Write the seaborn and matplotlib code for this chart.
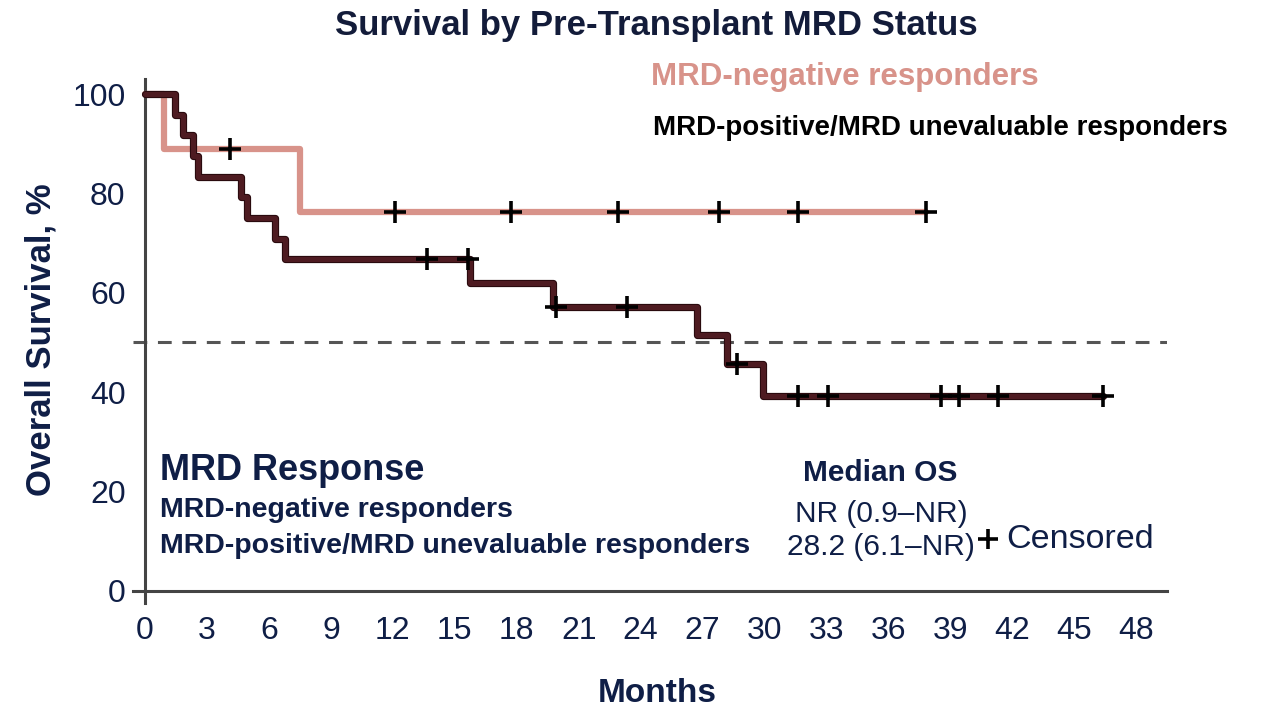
# Curvas de sobrevida (Kaplan-Meier) por status de DRM antes do transplante
import numpy as np
import pandas as pd
import matplotlib
matplotlib.use("Agg")
import matplotlib.pyplot as plt
import matplotlib.patheffects as pe
import seaborn as sns

# Dados (meses, % de sobrevida)
neg_times = [0, 0.9, 7.5]
neg_surv = [100, 88.9, 76.2]
neg_end = 37.8
neg_censor = [4.1, 12.1, 17.7, 22.9, 27.8, 31.6, 37.8]

pos_times = [0, 1.45, 1.86, 2.34, 2.58, 4.65, 4.92, 6.3, 6.78, 15.74, 19.77, 26.72, 28.2, 29.93]
pos_surv = [100, 95.8, 91.7, 87.5, 83.3, 79.2, 75.0, 70.8, 66.7, 61.9, 57.1, 51.4, 45.7, 39.2]
pos_end = 46.4
pos_censor = [13.64, 15.66, 19.9, 23.33, 28.67, 31.62, 33.09, 38.53, 39.43, 41.29, 46.38]

x_ticks = list(range(0, 49, 3))
y_ticks = [0, 20, 40, 60, 80, 100]

navy = "#0f1e46"
pink = "#d8938a"
maroon = "#4e1b21"

sns.set_style("white")
plt.rcParams["font.family"] = ["Liberation Sans", "DejaVu Sans"]


def step_df(times, surv, end, group):
    df = pd.DataFrame({"Months": list(times) + [end], "OS": list(surv) + [surv[-1]]})
    df["group"] = group
    return df


def censor_df(times, surv, censor):
    idx = np.searchsorted(times, censor, side="right") - 1
    return pd.DataFrame({"Months": censor, "OS": np.array(surv)[idx]})


neg = step_df(neg_times, neg_surv, neg_end, "neg")
pos = step_df(pos_times, pos_surv, pos_end, "pos")

fig = plt.figure(figsize=(12.68, 7.12), dpi=100)
ax = fig.add_axes([0.1046, 0.1529, 0.816, 0.736])

ax.axhline(50, color="#555555", lw=2.2, ls=(0, (4.5, 3.5)), zorder=1)

sns.lineplot(data=neg, x="Months", y="OS", drawstyle="steps-post", color=pink,
             lw=4.5, ax=ax, zorder=3)
sns.lineplot(data=pos, x="Months", y="OS", drawstyle="steps-post", color=maroon,
             lw=3.6, ax=ax, zorder=4,
             path_effects=[pe.Stroke(linewidth=5.2, foreground="#2a0a0e"), pe.Normal()])

for c in [censor_df(neg_times, neg_surv, neg_censor), censor_df(pos_times, pos_surv, pos_censor)]:
    sns.scatterplot(data=c, x="Months", y="OS", marker="+", s=260, linewidth=2.6,
                    color="black", ax=ax, zorder=5)

ax.set_xlim(-0.6, 49.5)
ax.set_ylim(-2.5, 103)
ax.set_xticks(x_ticks)
ax.set_yticks(y_ticks)
ax.spines["left"].set_position(("data", 0))
ax.spines["bottom"].set_position(("data", 0))
for s in ["top", "right"]:
    ax.spines[s].set_visible(False)
for s in ["left", "bottom"]:
    ax.spines[s].set_color("#444444")
    ax.spines[s].set_linewidth(2.2)
ax.tick_params(axis="both", direction="out", length=8, width=1.8, color="#444444",
               labelsize=23, labelcolor=navy, pad=6)
ax.tick_params(axis="x", pad=10)

ax.set_xlabel("Months", fontsize=24, fontweight="bold", color=navy)
ax.set_ylabel("Overall Survival, %", fontsize=25, fontweight="bold", color=navy)
ax.xaxis.set_label_coords(0.507, -0.142)
ax.yaxis.set_label_coords(-0.073, 0.502)


def fx(px):
    return px / 1268


def fy(py):
    return 1 - py / 712


fig.text(fx(656), fy(25), "Survival by Pre-Transplant MRD Status", ha="center", va="center",
         fontsize=25, fontweight="bold", color="#131c3a")
fig.text(fx(651), fy(77), "MRD-negative responders", ha="left", va="center",
         fontsize=22.5, fontweight="bold", color=pink)
fig.text(fx(653), fy(128), "MRD-positive/MRD unevaluable responders", ha="left", va="center",
         fontsize=20, fontweight="bold", color="black")

fig.text(fx(160), fy(470), "MRD Response", ha="left", va="center",
         fontsize=26, fontweight="bold", color=navy)
fig.text(fx(160), fy(510), "MRD-negative responders", ha="left", va="center",
         fontsize=20.5, fontweight="bold", color=navy)
fig.text(fx(160), fy(546), "MRD-positive/MRD unevaluable responders", ha="left", va="center",
         fontsize=20.5, fontweight="bold", color=navy)

fig.text(fx(880), fy(473), "Median OS", ha="center", va="center",
         fontsize=21.5, fontweight="bold", color=navy)
fig.text(fx(881), fy(514), "NR (0.9–NR)", ha="center", va="center",
         fontsize=21.5, color=navy)
fig.text(fx(881), fy(547), "28.2 (6.1–NR)", ha="center", va="center",
         fontsize=21.5, color=navy)

ax.plot([fx(988)], [fy(539)], marker="+", ms=14, mew=2.6, color="black",
        transform=fig.transFigure, clip_on=False)
fig.text(fx(1006), fy(540), "Censored", ha="left", va="center",
         fontsize=24.5, color=navy)

plt.savefig("out.png", dpi=100)
